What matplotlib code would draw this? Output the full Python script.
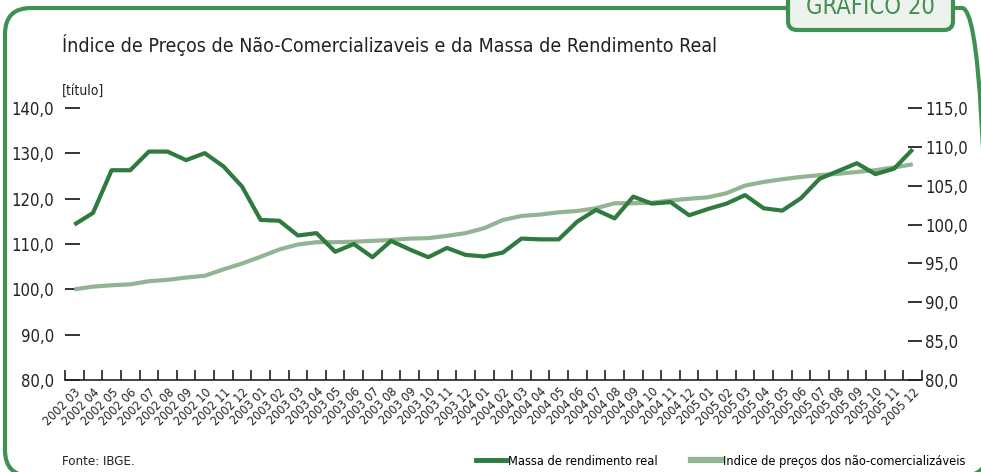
import matplotlib
matplotlib.use("Agg")
import matplotlib.pyplot as plt
from matplotlib.patches import FancyBboxPatch
from matplotlib.lines import Line2D
from matplotlib.transforms import IdentityTransform

plt.rcParams['font.family'] = ['DejaVu Sans']
plt.rcParams['font.stretch'] = 'condensed'

months = ["2002 03", "2002 04", "2002 05", "2002 06", "2002 07", "2002 08", "2002 09",
          "2002 10", "2002 11", "2002 12",
          "2003 01", "2003 02", "2003 03", "2003 04", "2003 05", "2003 06", "2003 07",
          "2003 08", "2003 09", "2003 10", "2003 11", "2003 12",
          "2004 01", "2004 02", "2004 03", "2004 04", "2004 05", "2004 06", "2004 07",
          "2004 08", "2004 09", "2004 10", "2004 11", "2004 12",
          "2005 01", "2005 02", "2005 03", "2005 04", "2005 05", "2005 06", "2005 07",
          "2005 08", "2005 09", "2005 10", "2005 11", "2005 12"]

# massa de rendimento real (eixo direito)
massa = [100.0, 101.5, 107.0, 107.0, 109.4, 109.4, 108.3, 109.2, 107.5, 104.9,
         100.6, 100.5, 98.6, 98.9, 96.5, 97.5, 95.8, 97.9, 96.8, 95.8,
         97.0, 96.1, 95.9, 96.4, 98.2, 98.1, 98.1, 100.4, 101.9, 100.8,
         103.6, 102.7, 102.9, 101.2, 102.0, 102.7, 103.8, 102.1, 101.8, 103.4,
         105.9, 106.9, 107.9, 106.5, 107.2, 109.7]

# indice de precos dos nao-comercializaveis (eixo esquerdo)
precos = [100.0, 100.6, 100.9, 101.1, 101.8, 102.1, 102.6, 103.0, 104.4, 105.7,
          107.2, 108.8, 109.9, 110.4, 110.4, 110.5, 110.7, 110.9, 111.2, 111.3,
          111.8, 112.4, 113.5, 115.3, 116.2, 116.5, 117.0, 117.3, 117.9, 119.0,
          119.0, 119.1, 119.6, 120.0, 120.3, 121.2, 122.9, 123.7, 124.3, 124.8,
          125.2, 125.5, 125.9, 126.3, 126.9, 127.6]

left_ticks = [80, 90, 100, 110, 120, 130, 140]
right_ticks = [80, 85, 90, 95, 100, 105, 110, 115]

dark = "#2f7a3f"
light = "#93b493"
frame_green = "#3f9152"
text_col = "#222222"

fig = plt.figure(figsize=(9.81, 4.72), dpi=100)
ax = fig.add_axes([0.0663, 0.195, 0.8736, 0.576])
ax2 = ax.twinx()

x = list(range(len(months)))
ax.plot(x, precos, color=light, lw=3, zorder=2, solid_capstyle='butt')
ax2.plot(x, massa, color=dark, lw=3, zorder=3, solid_capstyle='butt')

ax.set_xlim(-0.5, len(months) - 0.5)
ax.set_ylim(80, 140)
ax2.set_ylim(80, 115)

for a in (ax, ax2):
    for s in ("top", "left", "right"):
        a.spines[s].set_visible(False)
ax2.spines["bottom"].set_visible(False)
ax.spines["bottom"].set_linewidth(1.2)
ax.spines["bottom"].set_color(text_col)

ax.set_yticks(left_ticks)
ax.set_yticklabels([f"{v:.1f}".replace(".", ",") for v in left_ticks])
ax2.set_yticks(right_ticks)
ax2.set_yticklabels([f"{v:.1f}".replace(".", ",") for v in right_ticks])
ax.tick_params(axis="y", direction="in", length=11, width=1.3, pad=8,
               labelsize=12, colors=text_col)
ax2.tick_params(axis="y", direction="in", length=10, width=1.3, pad=2,
                labelsize=12, colors=text_col)

ax.set_xticks([i - 0.5 for i in range(len(months) + 1)])
ax.set_xticklabels([])
ax.set_xticks(x, minor=True)
ax.set_xticklabels(months, minor=True, rotation=45, ha="right",
                   rotation_mode="anchor", fontsize=9, color=text_col)
ax.tick_params(axis="x", which="major", direction="in", length=7, width=1.2,
               colors=text_col)
ax.tick_params(axis="x", which="minor", length=0, pad=4)

fig.text(0.063, 0.905, "Índice de Preços de Não-Comercializaveis e da Massa de Rendimento Real",
         fontsize=14, color=text_col, va="center")
fig.text(0.063, 0.808, "[título]", fontsize=10, color=text_col, va="center")
fig.text(0.063, 0.023, "Fonte: IBGE.", fontsize=9.5, color=text_col, va="center")

handles = [Line2D([0], [0], color=dark, lw=3.5), Line2D([0], [0], color=light, lw=4.5)]
fig.legend(handles, ["Massa de rendimento real", "Indice de preços dos não-comercializáveis"],
           loc="center right", bbox_to_anchor=(0.993, 0.023), ncol=2, frameon=False,
           fontsize=9.2, handlelength=2.35, handletextpad=0.15, columnspacing=2.6,
           borderpad=0.2)

# moldura
frame = FancyBboxPatch((5, -4), 983, 468, boxstyle="round,pad=0,rounding_size=26",
                       transform=IdentityTransform(), facecolor="none",
                       edgecolor=frame_green, lw=3, zorder=5)
fig.add_artist(frame)
tab = FancyBboxPatch((788, 442), 165, 50, boxstyle="round,pad=0,rounding_size=9",
                     transform=IdentityTransform(), facecolor="#eef2ee",
                     edgecolor=frame_green, lw=3, zorder=6)
fig.add_artist(tab)
fig.text(870, 458, "GRÁFICO 20", transform=IdentityTransform(), ha="center",
         va="baseline", fontsize=17, color=frame_green, zorder=7)

fig.savefig("out.png", dpi=100)
